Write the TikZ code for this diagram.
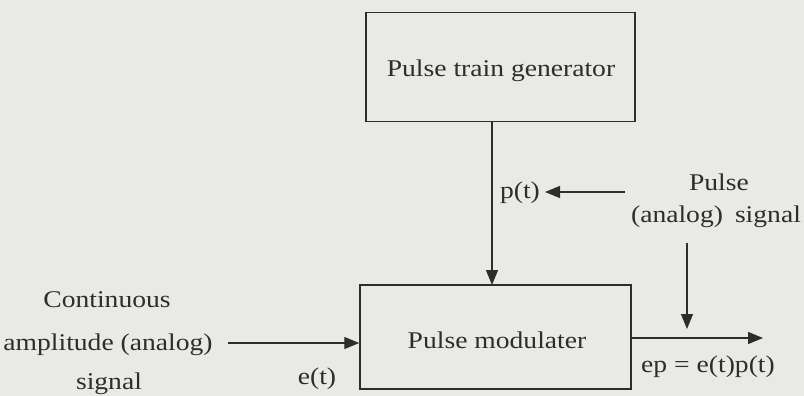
\documentclass[tikz,border=0pt]{standalone}
\usepackage{fontspec}
\setmainfont[FakeStretch=1.15]{Liberation Serif}
\usetikzlibrary{arrows.meta}
\definecolor{bg}{RGB}{233,233,229}
\definecolor{ink}{RGB}{45,45,45}
\tikzset{
  blk/.style={draw=ink, line width=1.5pt, inner sep=0pt},
  lbl/.style={text=ink, font=\fontsize{24}{26}\selectfont, inner sep=1pt},
  conn/.style={draw=ink, line width=1.2pt, -{Triangle[length=15pt,width=12pt]}}
}
\begin{document}
\begin{tikzpicture}[x=1pt,y=-1pt]
\fill[bg] (0,0) rectangle (804,396);
\useasboundingbox (0,0) rectangle (804,396);
% boxes
\node[blk, minimum width=269pt, minimum height=109pt] (gen) at (500.5,67) {};
\node[lbl] at (501,71) {Pulse train generator};
\node[blk, minimum width=271pt, minimum height=104pt] (mod) at (495.5,337) {};
\node[lbl] at (497,340) {Pulse modulater};
% vertical p(t)
\coordinate (modin) at (492,285);
\draw[conn] (gen.south -| modin) -- (modin);
\node[lbl] (pt) at (520,193) {p(t)};
\coordinate (pstart) at (625,192);
\draw[conn] (pstart) -- (545,192);
% pulse signal
\node[lbl] (pulse1) at (719,182) {Pulse};
\node[lbl] (pulse2) at (716,217) {(analog)\enspace signal};
\coordinate (ds) at (687,243);
\coordinate (de) at (687,329);
\draw[conn] (ds) -- (de);
% output
\coordinate (outend) at (763,338);
\draw[conn] (mod.east |- outend) -- (outend);
\node[lbl] (ep) at (708,367) {ep = e(t)p(t)};
% input
\node[lbl] (c1) at (107,300) {Continuous};
\node[lbl] (c2) at (108,345) {amplitude (analog)};
\node[lbl] (c3) at (109,384) {signal};
\coordinate (instart) at (228,343);
\draw[conn] (instart) -- (mod.west |- instart);
\node[lbl] (et) at (317,379) {e(t)};
\end{tikzpicture}
\end{document}
